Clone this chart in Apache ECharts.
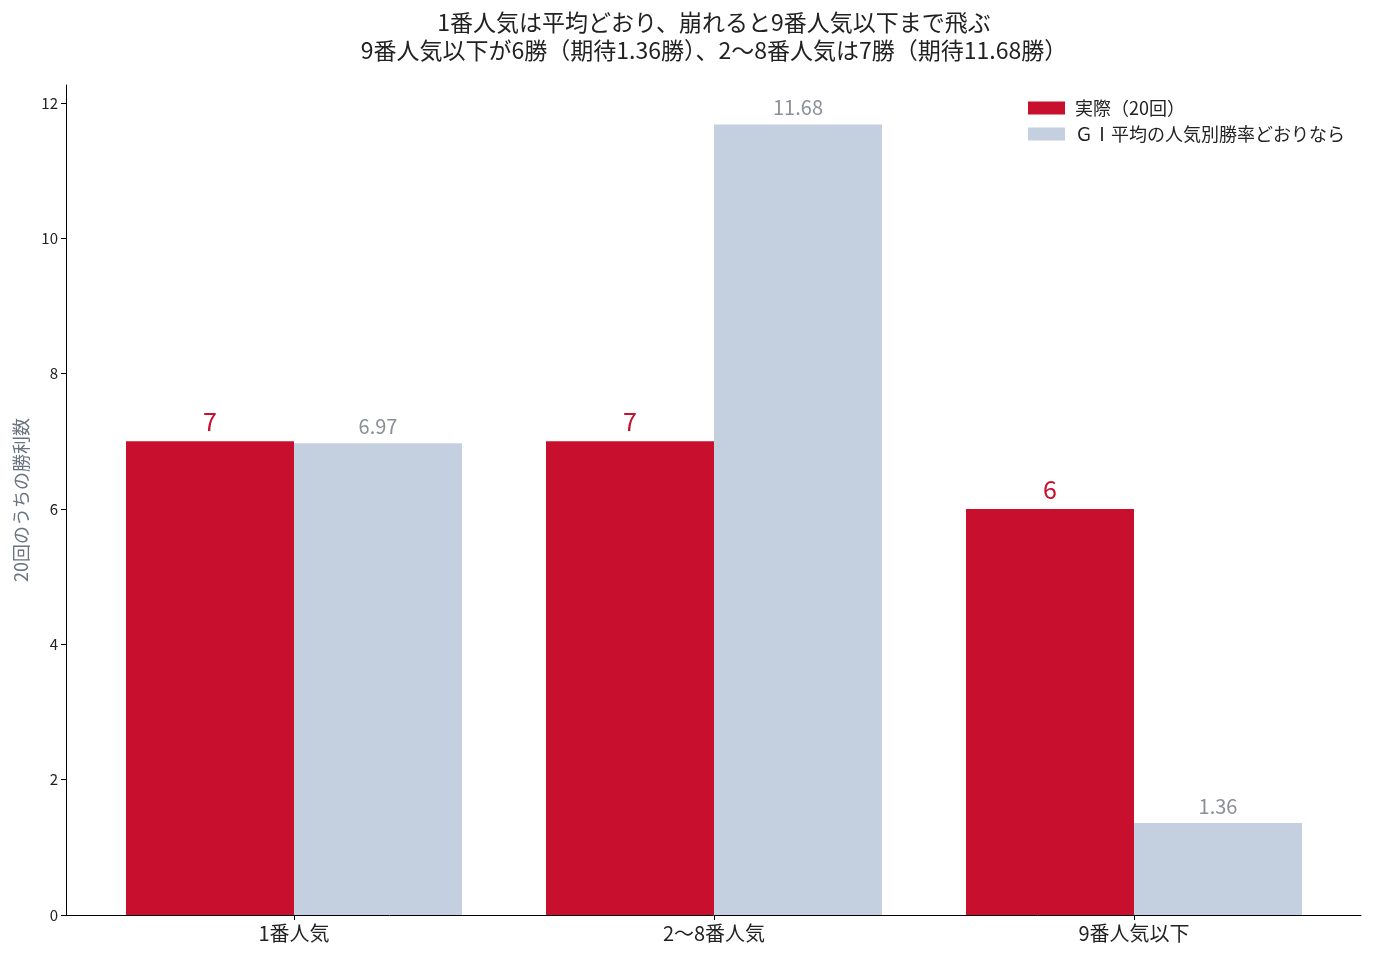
<!DOCTYPE html>
<html>
<head>
<meta charset="utf-8">
<script src="https://cdn.jsdelivr.net/npm/echarts@6/dist/echarts.min.js"></script>
<style>
  html, body { margin: 0; padding: 0; background: #fff; }
  #chart { width: 1376px; height: 960px; }
</style>
</head>
<body>
<div id="chart"></div>
<script>
var categories = ['1番人気', '2〜8番人気', '9番人気以下']
var actualWins = [7, 7, 6]
var expectedWins = [6.97, 11.68, 1.36]
var yTicks = [0, 2, 4, 6, 8, 10, 12]
var titleLines = [
  '1番人気は平均どおり、崩れると9番人気以下まで飛ぶ',
  '9番人気以下が6勝（期待1.36勝）、2〜8番人気は7勝（期待11.68勝）'
]

var FONT = '"Noto Sans CJK JP", "Noto Sans", sans-serif'
var RED = '#c8102e'
var BLUE = '#c4d0e0'
// 上に5%の余白
var yMax = Math.max.apply(null, expectedWins.concat(actualWins)) * 1.05

var chart = echarts.init(document.getElementById('chart'))

var option = {
  animation: false,
  textStyle: { fontFamily: FONT },
  graphic: [{
    type: 'text',
    x: 714,
    y: 8,
    style: {
      text: titleLines.join('\n'),
      align: 'center',
      font: '23px ' + FONT,
      lineHeight: 28,
      fill: '#222'
    }
  }],
  legend: {
    orient: 'vertical',
    left: 1023,
    top: 94,
    itemWidth: 37,
    itemHeight: 13,
    itemGap: 8,
    icon: 'rect',
    textStyle: { fontSize: 18, color: '#222', fontFamily: FONT, padding: [0, 0, 0, 5] },
    data: ['実際（20回）', 'ＧⅠ平均の人気別勝率どおりなら']
  },
  grid: [
    // 棒グラフ用
    { left: 84, right: 32, top: 85, bottom: 45 },
    // 枠線と目盛り用
    { left: 66, right: 15, top: 85, bottom: 45 }
  ],
  xAxis: [
    {
      gridIndex: 0,
      type: 'category',
      data: categories,
      axisLine: { show: false },
      axisTick: { show: true, alignWithLabel: true, length: 5, lineStyle: { color: '#000' } },
      axisLabel: { fontSize: 20, color: '#222', margin: 8, fontFamily: FONT }
    },
    {
      gridIndex: 1,
      type: 'value',
      min: 0,
      max: 1,
      axisLine: { show: true, lineStyle: { color: '#000', width: 1 } },
      axisTick: { show: false },
      axisLabel: { show: false },
      splitLine: { show: false }
    }
  ],
  yAxis: [
    {
      gridIndex: 0,
      type: 'value',
      min: 0,
      max: yMax,
      show: false
    },
    {
      gridIndex: 1,
      type: 'value',
      min: 0,
      max: yMax,
      name: '20回のうちの勝利数',
      nameLocation: 'middle',
      nameGap: 36,
      nameRotate: 90,
      nameTextStyle: { fontSize: 18, color: '#6b7280', fontFamily: FONT },
      axisLine: { show: true, lineStyle: { color: '#000', width: 1 } },
      axisTick: { show: true, length: 5, customValues: yTicks, lineStyle: { color: '#000' } },
      axisLabel: { fontSize: 15, color: '#222', margin: 8, customValues: yTicks },
      splitLine: { show: false }
    }
  ],
  series: [
    {
      name: '実際（20回）',
      type: 'bar',
      xAxisIndex: 0,
      yAxisIndex: 0,
      data: actualWins,
      barWidth: '40%',
      barGap: '0%',
      itemStyle: { color: RED },
      label: {
        show: true,
        position: 'top',
        distance: 7,
        fontSize: 25,
        color: RED,
        fontFamily: FONT
      }
    },
    {
      name: 'ＧⅠ平均の人気別勝率どおりなら',
      type: 'bar',
      xAxisIndex: 0,
      yAxisIndex: 0,
      data: expectedWins,
      barWidth: '40%',
      barGap: '0%',
      itemStyle: { color: BLUE },
      label: {
        show: true,
        position: 'top',
        distance: 7,
        fontSize: 20,
        color: '#8a8f99',
        fontFamily: FONT,
        formatter: function (p) { return p.value.toFixed(2) }
      }
    }
  ]
}

chart.setOption(option)
window.addEventListener('resize', chart.resize)
</script>
</body>
</html>
